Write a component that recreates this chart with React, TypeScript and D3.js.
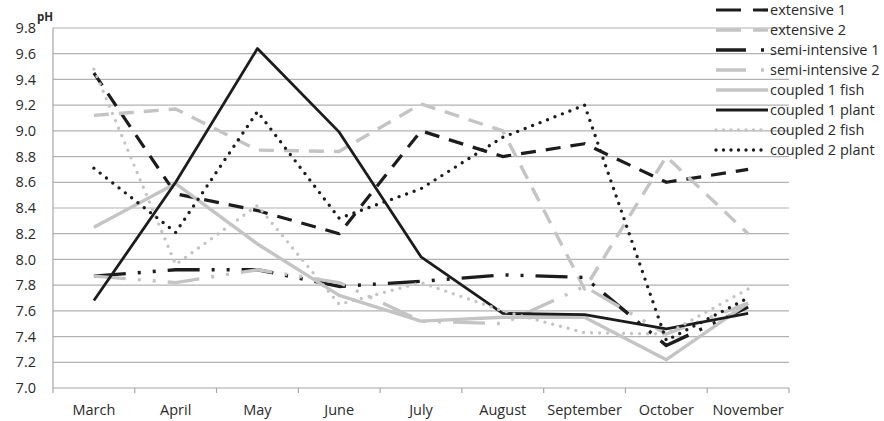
import React from 'react';
import * as d3 from 'd3';

// --- data ---
const months = ['March', 'April', 'May', 'June', 'July', 'August', 'September', 'October', 'November'];
const yTicks = [7.0, 7.2, 7.4, 7.6, 7.8, 8.0, 8.2, 8.4, 8.6, 8.8, 9.0, 9.2, 9.4, 9.6, 9.8];

const extensive1 = [9.45, 8.51, 8.38, 8.2, 9.0, 8.8, 8.9, 8.6, 8.7];
const extensive2 = [9.12, 9.17, 8.85, 8.84, 9.21, 9.0, 7.77, 8.8, 8.2];
const semiIntensive1 = [7.87, 7.92, 7.92, 7.79, 7.83, 7.88, 7.86, 7.33, 7.63];
const semiIntensive2 = [7.87, 7.82, 7.92, 7.82, 7.52, 7.5, 7.79, 7.42, 7.66];
const coupled1Fish = [8.25, 8.59, 8.12, 7.72, 7.52, 7.55, 7.55, 7.22, 7.66];
const coupled1Plant = [7.68, 8.6, 9.64, 8.99, 8.02, 7.58, 7.57, 7.46, 7.58];
const coupled2Fish = [9.48, 7.96, 8.42, 7.65, 7.82, 7.6, 7.43, 7.42, 7.77];
const coupled2Plant = [8.71, 8.21, 9.15, 8.32, 8.55, 8.95, 9.2, 7.37, 7.7];

const BLACK = '#1c1c1c';
const GREY = '#c4c4c4';
const FONT = '"Open Sans", sans-serif';

type Style = { color: string; width: number; dash?: string; legendDash?: string; cap?: 'round' | 'butt' };

const dashed = '15 10';
const longDashDotDot = '32 12 3 12 3 12';
const dotted = '0 8';

const series: { name: string; values: number[]; style: Style }[] = [
  { name: 'extensive 1', values: extensive1, style: { color: BLACK, width: 3.2, dash: dashed, legendDash: '25 12' } },
  { name: 'extensive 2', values: extensive2, style: { color: GREY, width: 3.4, dash: dashed, legendDash: '25 12' } },
  { name: 'semi-intensive 1', values: semiIntensive1, style: { color: BLACK, width: 3.4, dash: longDashDotDot, legendDash: '30 15 3 30' } },
  { name: 'semi-intensive 2', values: semiIntensive2, style: { color: GREY, width: 3.4, dash: longDashDotDot, legendDash: '30 15 3 30' } },
  { name: 'coupled 1 fish', values: coupled1Fish, style: { color: GREY, width: 3.4 } },
  { name: 'coupled 1 plant', values: coupled1Plant, style: { color: BLACK, width: 2.8 } },
  { name: 'coupled 2 fish', values: coupled2Fish, style: { color: GREY, width: 3.4, dash: dotted, legendDash: '0 7.5', cap: 'round' } },
  { name: 'coupled 2 plant', values: coupled2Plant, style: { color: BLACK, width: 3.4, dash: dotted, legendDash: '0 7.5', cap: 'round' } },
];

const App: React.FC = () => {
  const width = 884;
  const height = 421;
  const plot = { left: 53, right: 789, top: 28, bottom: 388 };

  const x = d3.scaleBand<string>().domain(months).range([plot.left, plot.right]);
  const y = d3.scaleLinear().domain([7.0, 9.8]).range([plot.bottom, plot.top]);

  const line = d3
    .line<number>()
    .x((_, i) => (x(months[i]) ?? 0) + x.bandwidth() / 2)
    .y((d) => y(d));

  const boundaries = months.map((m) => x(m) ?? 0).concat(plot.right);

  return (
    <div>
      <style>{'body{margin:0}'}</style>
      <svg width={width} height={height} style={{ display: 'block', background: '#fff' }} fontFamily={FONT}>
        {/* gridlines */}
        {yTicks.slice(1).map((t) => (
          <line key={t} x1={plot.left} x2={plot.right} y1={y(t)} y2={y(t)} stroke="#b2b2b2" strokeWidth={1.2} />
        ))}
        {/* axes */}
        <line x1={plot.left} x2={plot.left} y1={plot.top} y2={plot.bottom} stroke="#a6a6a6" strokeWidth={1.2} />
        <line x1={plot.left} x2={plot.right} y1={plot.bottom} y2={plot.bottom} stroke="#a6a6a6" strokeWidth={1.2} />
        {boundaries.map((bx, i) => (
          <line key={i} x1={bx} x2={bx} y1={plot.bottom} y2={plot.bottom + 5} stroke="#a6a6a6" strokeWidth={1.2} />
        ))}

        {/* y tick labels */}
        {yTicks.map((t) => (
          <text key={t} x={36} y={y(t)} dy="0.35em" textAnchor="end" fontSize={14.5} fill="#2a2a2a">
            {t.toFixed(1)}
          </text>
        ))}
        <text x={37} y={21} fontSize={11.5} fontWeight="bold" fill="#2a2a2a">pH</text>

        {/* x labels */}
        {months.map((m) => (
          <text key={m} x={(x(m) ?? 0) + x.bandwidth() / 2} y={415} textAnchor="middle" fontSize={14.5} fill="#2a2a2a">
            {m}
          </text>
        ))}

        {/* series */}
        {series.map((s) => (
          <path
            key={s.name}
            d={line(s.values) ?? ''}
            fill="none"
            stroke={s.style.color}
            strokeWidth={s.style.width}
            strokeDasharray={s.style.dash}
            strokeLinecap={s.style.cap ?? 'butt'}
            strokeLinejoin="round"
          />
        ))}

        {/* legend */}
        {series.map((s, i) => {
          const ly = 10 + i * 20;
          return (
            <g key={s.name}>
              <line
                x1={716}
                x2={768}
                y1={ly}
                y2={ly}
                stroke={s.style.color}
                strokeWidth={s.style.width}
                strokeDasharray={s.style.legendDash}
                strokeLinecap={s.style.cap ?? 'butt'}
              />
              <text x={770} y={ly} dy="0.35em" fontSize={14.5} fill="#2a2a2a">
                {s.name}
              </text>
            </g>
          );
        })}
      </svg>
    </div>
  );
};

export default App;
